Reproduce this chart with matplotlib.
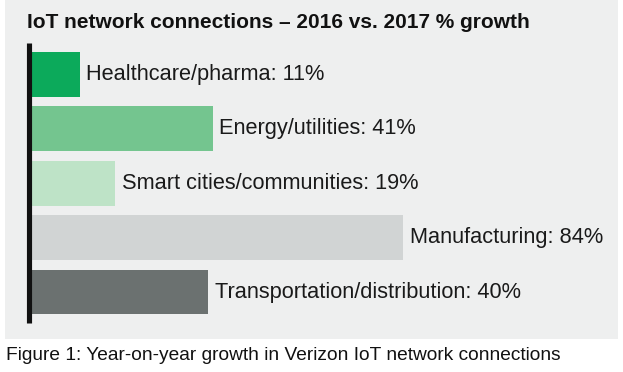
import matplotlib
matplotlib.use("Agg")
import matplotlib.pyplot as plt
from matplotlib.patches import Rectangle
from matplotlib.lines import Line2D

categories = ["Healthcare/pharma", "Energy/utilities", "Smart cities/communities",
              "Manufacturing", "Transportation/distribution"]
growth = [11, 41, 19, 84, 40]
colors = ["#0caa5b", "#74c58f", "#bee3c7", "#d1d4d4", "#6b7170"]
title = "IoT network connections – 2016 vs. 2017 % growth"
caption = "Figure 1: Year-on-year growth in Verizon IoT network connections"

W, H = 623, 372
fig = plt.figure(figsize=(W / 100, H / 100), dpi=100)
fig.patch.set_facecolor("white")

def fx(px):
    return px / W

def fy(py):
    return 1 - py / H

# grey panel
fig.patches.append(Rectangle((fx(5), fy(339)), fx(618) - fx(5), fy(0) - fy(339),
                             transform=fig.transFigure, facecolor="#eeefef",
                             edgecolor="none", zorder=-5))

ax_left, ax_right, ax_top, ax_bot = 31, 617, 43, 323
ax = fig.add_axes([fx(ax_left), fy(ax_bot), fx(ax_right) - fx(ax_left), fy(ax_top) - fy(ax_bot)])
ax.set_facecolor("none")
ax.set_zorder(2)
scale = 4.43
ax.set_xlim(0, (ax_right - ax_left) / scale)
ax.set_ylim(4.57, -0.58)
pos = list(range(len(categories)))
ax.barh(pos, growth, height=0.826, color=colors, zorder=2)
for p, c, v in zip(pos, categories, growth):
    ax.text(v + 1.5, p, f"{c}: {v}%", va="center", ha="left",
            fontsize=15.7, family="Liberation Sans", color="#1a1a1a")
for s in ax.spines.values():
    s.set_visible(False)
ax.set_xticks([])
ax.set_yticks([])

fig.lines.append(Line2D([fx(28.5), fx(28.5)], [fy(43), fy(323)], transform=fig.transFigure,
                        color="#111111", linewidth=3.7, solid_capstyle="butt", zorder=3))

fig.text(fx(27), fy(22), title, fontsize=15.0, fontweight="bold", family="Liberation Sans",
         color="#111111", va="center", ha="left")
fig.text(fx(6), fy(355), caption, fontsize=13.75, family="Liberation Sans",
         color="#111111", va="center", ha="left")

fig.savefig("out.png", dpi=100)
